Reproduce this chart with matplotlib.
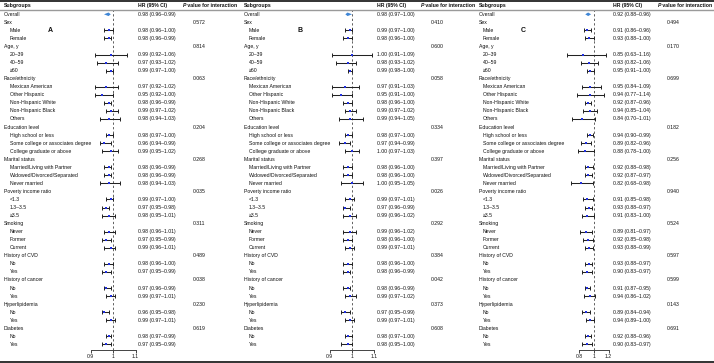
import matplotlib
matplotlib.use("Agg")
import matplotlib.pyplot as plt
from matplotlib.lines import Line2D
from matplotlib.text import Annotation
from matplotlib.transforms import blended_transform_factory

plt.rcParams['font.family'] = ['Liberation Sans', 'DejaVu Sans']

groups = ["Sex", "Age, y", "Race/ethnicity", "Education level", "Marital status",
          "Poverty income ratio", "Smoking", "History of CVD", "History of cancer",
          "Hyperlipidemia", "Diabetes"]
subgroups = [["Male", "Female"],
             ["20\u201339", "40\u201359", "\u226560"],
             ["Mexican American", "Other Hispanic", "Non-Hispanic White", "Non-Hispanic Black", "Others"],
             ["High school or less", "Some college or associates degree", "College graduate or above"],
             ["Married/Living with Partner", "Widowed/Divorced/Separated", "Never married"],
             ["<1.3", "1.3\u20133.5", "\u22653.5"],
             ["Never", "Former", "Current"],
             ["No", "Yes"], ["No", "Yes"], ["No", "Yes"], ["No", "Yes"]]

# first value = Overall, then the subgroups in order
hr_a = [0.98, 0.98, 0.98, 0.99, 0.97, 0.99, 0.97, 0.95, 0.98, 0.99, 0.98, 0.98, 0.96, 0.99,
        0.98, 0.98, 0.98, 0.99, 0.97, 0.98, 0.98, 0.97, 0.99, 0.98, 0.97, 0.97, 0.99, 0.96, 0.99, 0.98, 0.97]
lo_a = [0.96, 0.96, 0.96, 0.92, 0.93, 0.97, 0.92, 0.92, 0.96, 0.97, 0.94, 0.97, 0.94, 0.95,
        0.96, 0.96, 0.94, 0.97, 0.95, 0.95, 0.96, 0.95, 0.96, 0.96, 0.95, 0.96, 0.97, 0.95, 0.97, 0.97, 0.95]
hi_a = [0.99, 1.00, 0.99, 1.06, 1.02, 1.00, 1.02, 1.00, 0.99, 1.02, 1.03, 1.00, 0.99, 1.02,
        0.99, 0.99, 1.03, 1.00, 0.98, 1.01, 1.01, 0.99, 1.01, 1.00, 0.99, 0.99, 1.01, 0.98, 1.01, 0.99, 0.99]
p_a = ["0.572", "0.814", "0.063", "0.204", "0.268", "0.035", "0.311", "0.489", "0.038", "0.230", "0.619"]

hr_b = [0.98, 0.99, 0.98, 1.00, 0.98, 0.99, 0.97, 0.95, 0.98, 0.99, 0.99, 0.98, 0.97, 1.00,
        0.98, 0.98, 1.00, 0.99, 0.97, 0.99, 0.99, 0.98, 0.99, 0.98, 0.98, 0.98, 0.99, 0.97, 0.99, 0.98, 0.98]
lo_b = [0.97, 0.97, 0.96, 0.91, 0.93, 0.98, 0.91, 0.91, 0.96, 0.97, 0.94, 0.97, 0.94, 0.97,
        0.96, 0.96, 0.95, 0.97, 0.96, 0.96, 0.96, 0.96, 0.97, 0.96, 0.96, 0.96, 0.97, 0.95, 0.97, 0.97, 0.95]
hi_b = [1.00, 1.00, 1.00, 1.09, 1.02, 1.00, 1.03, 1.00, 1.00, 1.02, 1.05, 1.00, 0.99, 1.03,
        1.00, 1.00, 1.05, 1.01, 0.99, 1.02, 1.02, 1.00, 1.01, 1.00, 0.99, 0.99, 1.02, 0.99, 1.01, 1.00, 1.00]
p_b = ["0.410", "0.600", "0.058", "0.334", "0.397", "0.026", "0.292", "0.384", "0.042", "0.373", "0.608"]

hr_c = [0.92, 0.91, 0.93, 0.85, 0.93, 0.95, 0.95, 0.94, 0.92, 0.94, 0.84, 0.94, 0.89, 0.88,
        0.92, 0.92, 0.82, 0.91, 0.93, 0.91, 0.89, 0.92, 0.93, 0.93, 0.90, 0.91, 0.94, 0.89, 0.94, 0.92, 0.90]
lo_c = [0.88, 0.86, 0.88, 0.63, 0.82, 0.91, 0.84, 0.77, 0.87, 0.85, 0.70, 0.90, 0.82, 0.78,
        0.88, 0.87, 0.68, 0.85, 0.88, 0.83, 0.81, 0.85, 0.88, 0.88, 0.83, 0.87, 0.86, 0.84, 0.89, 0.88, 0.83]
hi_c = [0.96, 0.96, 1.00, 1.16, 1.06, 1.00, 1.09, 1.14, 0.96, 1.04, 1.01, 0.99, 0.96, 1.00,
        0.98, 0.97, 0.98, 0.98, 0.97, 1.00, 0.97, 0.98, 0.99, 0.97, 0.97, 0.95, 1.02, 0.94, 1.00, 0.96, 0.97]
p_c = ["0.494", "0.170", "0.699", "0.182", "0.256", "0.940", "0.524", "0.597", "0.599", "0.143", "0.691"]

W, H = 714, 363
fig = plt.figure(figsize=(W / 100, H / 100), dpi=100)

fs = 3.7
txtc = '#111111'
y_axis = 349.5   # pixel row of x-axis line
y_top = 10.0     # pixel row of top of forest area
row0, drow = 14.3, 8.05
ylo = (y_axis - row0) / drow
yhi = (y_top - row0) / drow

# layout of each panel in pixels
panels = [
    dict(hr=hr_a, lo=lo_a, hi=hi_a, p=p_a, letter="A", x_lab=4, x_ind=10, center=113, k=225,
         x0=80, x1=142, x_hr=138, x_ph=183, x_p=193, x_let=50, ticks=[0.9, 1, 1.1], tl=["0.9", "1", "1.1"]),
    dict(hr=hr_b, lo=lo_b, hi=hi_b, p=p_b, letter="B", x_lab=244, x_ind=249, center=352, k=222,
         x0=318, x1=380, x_hr=377, x_ph=421, x_p=431, x_let=300, ticks=[0.9, 1, 1.1], tl=["0.9", "1", "1.1"]),
    dict(hr=hr_c, lo=lo_c, hi=hi_c, p=p_c, letter="C", x_lab=479, x_ind=483, center=594, k=73,
         x0=558, x1=616, x_hr=613, x_ph=658, x_p=667, x_let=523, ticks=[0.8, 1, 1.2], tl=["0.8", "1", "1.2"]),
]

for P in panels:
    ax = fig.add_axes([P['x0'] / W, (H - y_axis) / H, (P['x1'] - P['x0']) / W, (y_axis - y_top) / H])
    ax.patch.set_visible(False)
    ax.set_xlim(1 + (P['x0'] - P['center']) / P['k'], 1 + (P['x1'] - P['center']) / P['k'])
    ax.set_ylim(ylo, yhi)
    for s in ['top', 'right', 'left']:
        ax.spines[s].set_visible(False)
    ax.spines['bottom'].set_bounds(P['ticks'][0], P['ticks'][-1])
    ax.spines['bottom'].set_linewidth(0.7)
    ax.spines['bottom'].set_color('#444444')
    ax.set_yticks([])
    ax.set_xticks(P['ticks'])
    ax.set_xticklabels(P['tl'])
    ax.tick_params(axis='x', length=2.2, width=0.7, color='#444444', labelsize=fs, pad=1.2, labelcolor=txtc)
    ax.axvline(1, color='#555555', lw=0.65, ls=(0, (2.5, 2.5)), zorder=1)

    tr = blended_transform_factory(fig.transFigure, ax.transData)
    hr, lo, hi = P['hr'], P['lo'], P['hi']

    # overall row: diamond
    h = 0.22
    ax.fill([lo[0], hr[0], hi[0], hr[0]], [0, -h, 0, h], color='#3f86d6', lw=0, zorder=3)
    ax.text(P['x_lab'] / W, 0, "Overall", transform=tr, fontsize=fs, va='center', color=txtc)
    ax.text(P['x_hr'] / W, 0, f"{hr[0]:.2f} ({lo[0]:.2f}\u2013{hi[0]:.2f})", transform=tr,
            fontsize=fs, va='center', color=txtc)

    row = 1
    idx = 1
    ys, xs, el, eh = [], [], [], []
    for g, subs, pv in zip(groups, subgroups, P['p']):
        ax.text(P['x_lab'] / W, row, g, transform=tr, fontsize=fs, va='center', color=txtc)
        ax.text(P['x_p'] / W, row, pv, transform=tr, fontsize=fs, va='center', color=txtc)
        row += 1
        for s in subs:
            ax.text(P['x_ind'] / W, row, s, transform=tr, fontsize=fs, va='center', color=txtc)
            ax.text(P['x_hr'] / W, row, f"{hr[idx]:.2f} ({lo[idx]:.2f}\u2013{hi[idx]:.2f})",
                    transform=tr, fontsize=fs, va='center', color=txtc)
            ys.append(row)
            xs.append(hr[idx])
            el.append(hr[idx] - lo[idx])
            eh.append(hi[idx] - hr[idx])
            row += 1
            idx += 1
    ax.errorbar(xs, ys, xerr=[el, eh], fmt='none', ecolor='#222222', elinewidth=0.75,
                capsize=1.15, capthick=0.7, zorder=3)
    ax.plot(xs, ys, 's', ms=2.0, color='#2030e0', markeredgewidth=0, zorder=4)

    # header
    hy = 1 - 5.3 / H
    fig.text(P['x_lab'] / W, hy, "Subgroups", fontsize=fs, fontweight='bold', va='center', color=txtc)
    fig.text(P['x_hr'] / W, hy, "HR (95% CI)", fontsize=fs, fontweight='bold', va='center', color=txtc)
    pt = fig.text(P['x_ph'] / W, hy, "P", fontsize=fs, fontweight='bold', style='italic',
                  va='center', color=txtc)
    fig.add_artist(Annotation(" value for interaction", xy=(1, 0.5), xycoords=pt,
                              va='center', ha='left', fontsize=fs, fontweight='bold', color=txtc))
    ax.text(P['x_let'] / W, 2, P['letter'], transform=tr, fontsize=5, fontweight='bold',
            ha='center', va='center', color=txtc)

# rules
fig.add_artist(Line2D([0, 1], [1 - 0.8 / H] * 2, transform=fig.transFigure, color='#222222', lw=1.3))
fig.add_artist(Line2D([0, 1], [1 - 10.0 / H] * 2, transform=fig.transFigure, color='#9a9a9a', lw=1.0))
fig.add_artist(Line2D([0, 1], [1 - 362.0 / H] * 2, transform=fig.transFigure, color='#222222', lw=1.3))

fig.savefig("out.png", dpi=100)
